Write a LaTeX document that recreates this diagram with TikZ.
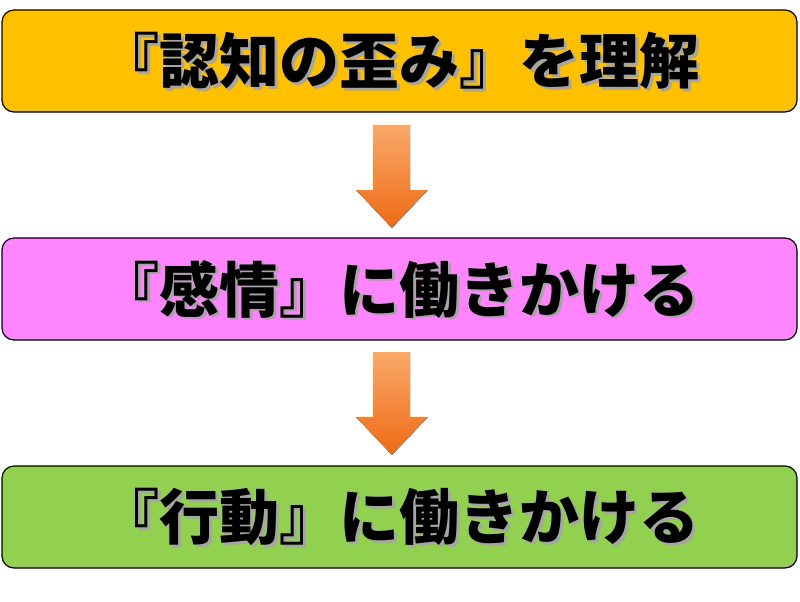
\documentclass[tikz,border=0pt]{standalone}
\usepackage{fontspec}
\newfontfamily\cjk{Noto Sans CJK JP}[BoldFont={* Black}]
\definecolor{box1}{HTML}{FFC000}
\definecolor{box2}{HTML}{FF85FF}
\definecolor{box3}{HTML}{92D050}
\definecolor{arTop}{HTML}{F9A96A}
\definecolor{arBot}{HTML}{EE6A14}
\tikzset{
 bx/.style={draw=black,line width=1.2pt,rounded corners=12pt,minimum width=795pt,minimum height=102pt,inner sep=0pt},
 lbl/.style={font=\cjk\bfseries\fontsize{60}{66}\selectfont},
}
\begin{document}
\begin{tikzpicture}[x=1pt,y=-1pt]
\useasboundingbox (0,0) rectangle (800,602);
\node[bx,fill=box1] (a) at (399.5,61) {};
\node[bx,fill=box2] (b) at (399.5,289) {};
\node[bx,fill=box3] (c) at (399.5,517) {};
\foreach \n/\t in {a/『認知の歪み』を理解,b/『感情』に働きかける,c/『行動』に働きかける}{
 \node[lbl,text=gray!70] at ([xshift=2.5pt,yshift=-2.5pt]\n) {\t};
 \node[lbl] at (\n) {\t};
}
\fill[top color=arTop,bottom color=arBot] (373,125) -- (410,125) -- (410,190) -- (428,190) -- (392,228) -- (356,190) -- (373,190) -- cycle;
\fill[top color=arTop,bottom color=arBot] (373,352) -- (410,352) -- (410,417) -- (428,417) -- (392,455) -- (356,417) -- (373,417) -- cycle;
\end{tikzpicture}
\end{document}
